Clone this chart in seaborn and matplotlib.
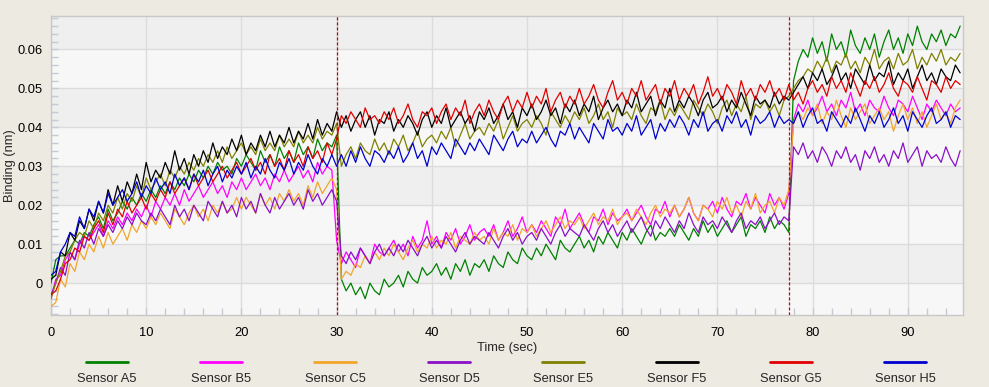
import numpy as np
import pandas as pd
import matplotlib
matplotlib.use("Agg")
import matplotlib.pyplot as plt
from matplotlib.lines import Line2D
from matplotlib.ticker import MultipleLocator
import seaborn as sns

# Серии сенсоров (значения в 0.001 nm), три участка: ассоциация, диссоциация, вторая ступень
SENSORS = ['Sensor A5', 'Sensor B5', 'Sensor C5', 'Sensor D5',
           'Sensor E5', 'Sensor F5', 'Sensor G5', 'Sensor H5']
COLORS = ['#008000', '#ff00ff', '#f2a52a', '#8b10c8',
          '#808000', '#000000', '#e00000', '#0000d0']
SEG_STARTS = [0.0, 30.5, 78.0]
STEP = 0.5
EVENT_TIMES = [30.0, 77.56]
X_TICKS = [0, 10, 20, 30, 40, 50, 60, 70, 80, 90]
Y_TICKS = [0, 0.01, 0.02, 0.03, 0.04, 0.05, 0.06]
Y_LABELS = ['0', '0.01', '0.02', '0.03', '0.04', '0.05', '0.06']

A5 = [
    [0, 6, 7, 7, 9, 11, 10, 13, 12, 15, 17, 14, 19, 16, 18, 21, 19, 22, 20, 23,
     21, 24, 22, 25, 23, 26, 24, 27, 25, 28, 26, 29, 27, 30, 28, 31, 29, 30, 28, 32,
     30, 33, 31, 29, 34, 31, 33, 30, 35, 32, 34, 31, 36, 33, 35, 32, 37, 34, 36, 35, 38],
    [1, -2, 0, -3, -1, -4, 0, -2, -3, 1, -1, 0, 2, -1, 3, 1, 0, 4, 2, 3,
     5, 2, 4, 1, 5, 3, 6, 2, 5, 4, 6, 3, 7, 5, 4, 8, 6, 5, 9, 7,
     6, 9, 7, 10, 8, 6, 11, 9, 8, 10, 12, 9, 11, 8, 12, 10, 13, 11, 9, 13,
     11, 14, 12, 10, 13, 15, 11, 13, 12, 14, 12, 15, 13, 11, 14, 12, 16, 13, 15, 12,
     14, 16, 13, 15, 17, 12, 15, 14, 16, 13, 17, 14, 16, 15, 13],
    [52, 57, 60, 58, 63, 59, 62, 57, 64, 60, 62, 58, 65, 61, 59, 63, 60, 64, 58, 62,
     65, 60, 63, 59, 64, 61, 66, 62, 60, 64, 62, 65, 61, 64, 63, 66],
]
B5 = [
    [-4, 1, 2, 6, 8, 6, 10, 12, 11, 13, 15, 12, 16, 14, 17, 15, 18, 16, 19, 17,
     20, 17, 21, 19, 22, 20, 23, 20, 24, 21, 23, 25, 22, 24, 26, 23, 25, 22, 26, 24,
     27, 24, 26, 28, 25, 27, 24, 28, 26, 29, 26, 28, 30, 27, 29, 26, 31, 28, 30, 29, 11],
    [5, 8, 6, 4, 9, 7, 5, 10, 8, 7, 9, 11, 8, 10, 7, 12, 9, 11, 16, 10,
     12, 9, 13, 11, 14, 10, 12, 15, 11, 13, 14, 12, 15, 11, 13, 16, 12, 14, 17, 13,
     15, 13, 16, 14, 12, 17, 15, 19, 14, 16, 18, 15, 13, 17, 16, 19, 15, 18, 16, 17,
     19, 16, 18, 20, 17, 15, 19, 18, 21, 17, 20, 17, 19, 22, 18, 16, 20, 19, 21, 18,
     22, 19, 17, 21, 20, 23, 19, 22, 20, 18, 23, 20, 22, 19, 23],
    [42, 46, 44, 47, 43, 45, 48, 44, 46, 43, 47, 45, 49, 44, 46, 43, 47, 45, 44, 48,
     45, 43, 47, 46, 44, 48, 45, 42, 46, 44, 47, 45, 43, 46, 44, 45],
]
C5 = [
    [-6, -5, 1, -1, 5, 3, 8, 6, 10, 8, 12, 9, 13, 10, 12, 14, 11, 15, 13, 16,
     14, 17, 15, 18, 16, 14, 19, 17, 15, 18, 20, 17, 19, 16, 20, 18, 21, 18, 19, 22,
     19, 22, 20, 18, 23, 20, 22, 19, 23, 21, 24, 21, 23, 20, 25, 22, 26, 23, 25, 27, 24],
    [1, 3, 2, 5, 4, 7, 5, 8, 6, 9, 7, 10, 8, 6, 9, 11, 8, 10, 9, 12,
     9, 11, 10, 13, 9, 12, 11, 10, 13, 11, 12, 10, 14, 11, 13, 12, 15, 11, 14, 13,
     15, 12, 14, 16, 13, 15, 17, 14, 16, 15, 17, 14, 16, 18, 15, 17, 16, 19, 15, 17,
     18, 16, 19, 17, 15, 18, 20, 17, 19, 18, 20, 17, 19, 22, 18, 16, 20, 19, 17, 21,
     19, 22, 18, 20, 17, 21, 19, 23, 18, 20, 21, 18, 22, 20, 24],
    [41, 44, 42, 45, 43, 46, 41, 44, 42, 47, 43, 40, 45, 42, 44, 46, 41, 43, 45, 42,
     44, 39, 43, 46, 42, 45, 41, 44, 40, 43, 46, 42, 44, 41, 45, 47],
]
D5 = [
    [-3, 0, 4, 2, 8, 6, 11, 9, 13, 10, 14, 12, 15, 13, 16, 14, 17, 15, 18, 16,
     15, 18, 16, 19, 17, 15, 20, 17, 19, 16, 20, 18, 16, 21, 19, 17, 21, 18, 20, 17,
     22, 19, 21, 18, 23, 20, 18, 22, 19, 21, 23, 20, 22, 19, 24, 21, 23, 20, 22, 24, 21],
    [7, 5, 8, 6, 9, 7, 5, 8, 10, 7, 9, 7, 10, 8, 11, 9, 7, 10, 12, 9,
     11, 9, 12, 10, 8, 11, 13, 10, 12, 11, 10, 13, 11, 9, 12, 14, 11, 13, 10, 12,
     13, 11, 14, 12, 10, 13, 15, 12, 14, 13, 12, 15, 13, 11, 14, 16, 13, 15, 12, 14,
     16, 13, 15, 17, 14, 12, 16, 14, 17, 15, 13, 16, 14, 18, 15, 13, 17, 15, 16, 14,
     17, 15, 13, 16, 18, 14, 16, 15, 17, 14, 16, 18, 15, 17, 16],
    [35, 33, 36, 32, 34, 31, 35, 33, 30, 34, 32, 35, 31, 33, 29, 34, 32, 35, 31, 33,
     30, 34, 32, 36, 31, 33, 35, 30, 34, 32, 33, 31, 35, 32, 30, 34],
]
E5 = [
    [-4, 0, 3, 7, 8, 11, 13, 12, 16, 14, 18, 16, 20, 18, 22, 19, 23, 21, 25, 22,
     27, 24, 26, 28, 25, 29, 27, 30, 28, 31, 29, 32, 30, 33, 31, 34, 31, 35, 32, 34,
     36, 33, 35, 33, 37, 34, 36, 34, 38, 35, 37, 35, 39, 36, 38, 36, 40, 37, 39, 38, 41],
    [30, 33, 35, 32, 36, 34, 33, 37, 34, 36, 33, 37, 35, 38, 34, 36, 39, 35, 37, 38,
     36, 39, 37, 40, 35, 38, 41, 37, 39, 40, 38, 41, 39, 42, 37, 40, 43, 39, 41, 42,
     40, 43, 41, 38, 44, 42, 40, 43, 41, 44, 42, 45, 41, 43, 46, 42, 44, 40, 45, 43,
     44, 42, 46, 43, 41, 45, 44, 47, 42, 45, 43, 46, 44, 42, 47, 45, 43, 46, 44, 41,
     45, 47, 43, 46, 44, 48, 42, 46, 45, 47, 44, 46, 43, 47, 48],
    [50, 52, 53, 55, 54, 57, 55, 58, 54, 57, 56, 59, 55, 57, 54, 58, 56, 60, 55, 57,
     58, 55, 59, 56, 57, 60, 55, 58, 56, 59, 57, 60, 56, 58, 57, 59],
]
F5 = [
    [1, 2, 8, 7, 13, 11, 16, 14, 19, 16, 21, 18, 24, 20, 25, 21, 26, 23, 28, 24,
     31, 26, 29, 27, 31, 28, 34, 29, 32, 28, 33, 30, 34, 31, 36, 32, 35, 33, 37, 34,
     38, 33, 36, 34, 38, 35, 39, 35, 38, 36, 40, 36, 39, 37, 41, 37, 42, 38, 41, 39, 44],
    [40, 43, 39, 42, 44, 40, 43, 38, 42, 41, 44, 39, 42, 40, 43, 41, 38, 42, 44, 40,
     43, 41, 45, 40, 42, 44, 41, 43, 39, 44, 42, 45, 41, 43, 46, 42, 44, 40, 45, 43,
     46, 42, 44, 47, 43, 45, 41, 46, 44, 47, 43, 46, 44, 48, 42, 45, 47, 44, 46, 43,
     47, 45, 49, 44, 46, 48, 43, 47, 45, 50, 44, 47, 45, 48, 46, 43, 47, 49, 45, 46,
     48, 44, 47, 45, 49, 46, 43, 48, 46, 47, 45, 49, 46, 48, 47],
    [49, 51, 53, 50, 54, 52, 55, 51, 53, 56, 52, 54, 50, 55, 53, 51, 56, 52, 54, 53,
     57, 51, 54, 52, 55, 50, 53, 56, 52, 54, 51, 55, 53, 52, 56, 54],
]
G5 = [
    [-3, -2, 1, 5, 6, 9, 8, 12, 11, 14, 16, 13, 18, 15, 19, 17, 21, 18, 20, 22,
     19, 23, 21, 24, 22, 26, 23, 25, 27, 24, 28, 25, 27, 29, 26, 28, 30, 27, 29, 31,
     28, 30, 32, 29, 31, 28, 33, 30, 32, 29, 34, 31, 33, 30, 35, 32, 34, 31, 36, 33, 37],
    [43, 41, 44, 42, 40, 45, 42, 43, 41, 44, 42, 45, 41, 43, 46, 42, 40, 44, 43, 45,
     41, 44, 46, 42, 45, 43, 47, 41, 44, 46, 43, 47, 44, 42, 46, 48, 44, 47, 45, 49,
     45, 48, 46, 50, 44, 47, 49, 45, 48, 46, 50, 46, 48, 51, 47, 45, 49, 52, 47, 49,
     46, 50, 48, 52, 47, 49, 51, 46, 50, 48, 52, 47, 50, 48, 51, 46, 49, 53, 48, 50,
     47, 51, 49, 46, 52, 48, 50, 47, 51, 49, 52, 48, 50, 47, 51],
    [47, 49, 46, 50, 52, 49, 51, 48, 53, 50, 52, 49, 54, 51, 48, 52, 50, 53, 49, 51,
     54, 50, 48, 52, 51, 49, 53, 50, 47, 52, 51, 49, 53, 50, 52, 51],
]
H5 = [
    [2, 3, 8, 10, 13, 12, 17, 14, 19, 17, 21, 18, 23, 20, 22, 24, 21, 23, 26, 22,
     25, 23, 27, 24, 26, 23, 28, 25, 27, 24, 28, 26, 29, 25, 28, 30, 26, 29, 27, 30,
     28, 31, 27, 30, 28, 32, 29, 27, 31, 29, 32, 28, 31, 29, 33, 30, 28, 32, 30, 33, 30],
    [33, 30, 34, 31, 35, 32, 30, 34, 33, 31, 34, 32, 35, 31, 33, 36, 32, 34, 30, 35,
     33, 36, 34, 32, 37, 35, 33, 36, 34, 37, 35, 33, 38, 36, 34, 37, 39, 35, 37, 36,
     39, 36, 38, 40, 37, 35, 39, 38, 41, 37, 40, 38, 36, 41, 39, 37, 42, 39, 40, 38,
     41, 39, 43, 38, 40, 42, 37, 41, 39, 42, 40, 43, 41, 38, 42, 40, 44, 39, 41, 42,
     39, 43, 41, 44, 40, 42, 38, 43, 41, 42, 44, 40, 43, 41, 42],
    [41, 44, 40, 43, 45, 41, 42, 39, 44, 42, 40, 43, 41, 45, 42, 39, 43, 41, 44, 40,
     42, 45, 41, 43, 39, 44, 42, 40, 43, 45, 41, 42, 44, 40, 43, 42],
]

SERIES = [A5, B5, C5, D5, E5, F5, G5, H5]

# Сборка длинной таблицы для seaborn
rows = []
for name, segs in zip(SENSORS, SERIES):
    for start, seg in zip(SEG_STARTS, segs):
        for i, v in enumerate(seg):
            rows.append((name, start + i * STEP, v / 1000.0))
df = pd.DataFrame(rows, columns=['sensor', 'time', 'binding'])

sns.set_style("white")
plt.rcParams['font.family'] = ['Liberation Sans', 'DejaVu Sans']
FS = 9.3

W, H = 989, 387
fig = plt.figure(figsize=(W / 100, H / 100), dpi=100, facecolor='#edeae2')
ax = fig.add_axes([51 / W, 1 - 315 / H, (963 - 51) / W, (315 - 16) / H])

YMIN, YMAX = -0.0082, 0.0686
ax.set_facecolor('#f7f7f7')
# Полосы фона
for lo in [0.0, 0.02, 0.04, 0.06]:
    ax.axhspan(lo, min(lo + 0.01, YMAX), color='#efefef', lw=0, zorder=0)

sns.lineplot(data=df, x='time', y='binding', hue='sensor', hue_order=SENSORS,
             palette=COLORS, estimator=None, lw=0.9, legend=False, ax=ax, zorder=3)

for t in EVENT_TIMES:
    ax.axvline(t, color='#cc0000', lw=0.9, ls=(0, (2.5, 1.5)), zorder=4)

ax.set_xlim(0, 95.8)
ax.set_ylim(YMIN, YMAX)
ax.set_xticks(X_TICKS)
ax.set_yticks(Y_TICKS)
ax.set_yticklabels(Y_LABELS)
ax.xaxis.set_minor_locator(MultipleLocator(2))
ax.yaxis.set_minor_locator(MultipleLocator(0.002))
ax.grid(True, which='major', color='#dcdcdc', lw=1, zorder=1)
ax.set_axisbelow(True)

ax.tick_params(which='both', direction='in', length=5, color='#c5cad6', width=1,
               left=True, bottom=True, top=False, right=False)
ax.tick_params(axis='x', which='major', pad=9, labelsize=FS, labelcolor='black')
ax.tick_params(axis='y', which='major', pad=6, labelsize=FS, labelcolor='black')
for s in ax.spines.values():
    s.set_color('#c8c8c8')
    s.set_linewidth(1)

ax.set_xlabel('Time (sec)', fontsize=FS, labelpad=2)
ax.set_ylabel('Binding (nm)', fontsize=FS, labelpad=1)

# Легенда: линия над подписью
for i, (name, col) in enumerate(zip(SENSORS, COLORS)):
    cx = 107 + 114 * i
    fig.add_artist(Line2D([(cx - 21) / W, (cx + 21) / W], [1 - 362 / H, 1 - 362 / H],
                          transform=fig.transFigure, color=col, lw=2))
    fig.text(cx / W, 1 - 379 / H, name, ha='center', va='center', fontsize=FS)

fig.savefig('out.png', dpi=100, facecolor=fig.get_facecolor())
